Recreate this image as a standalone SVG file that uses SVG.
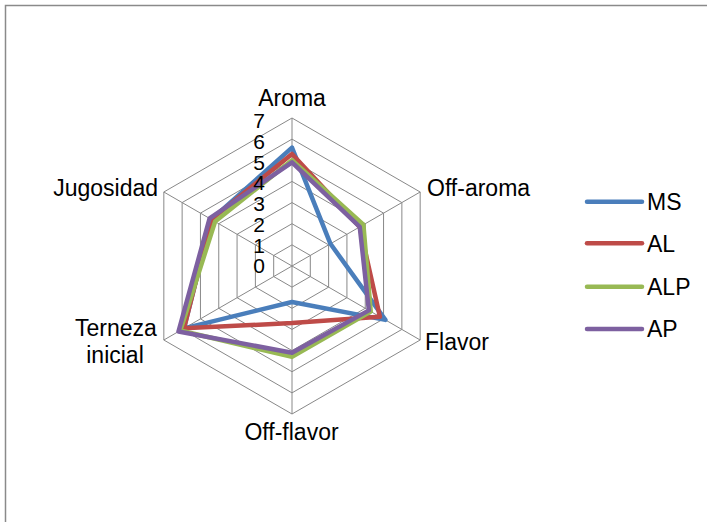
<svg xmlns="http://www.w3.org/2000/svg" width="707" height="522" viewBox="0 0 707 522">
<style>
  text { font-family: "Liberation Sans", Arial, sans-serif; font-size: 23px; fill: #000; }
  .num { font-size: 21px; }
  .grid { fill: none; stroke: #888888; stroke-width: 1; }
  .ser { fill: none; stroke-width: 4.5; stroke-linejoin: round; stroke-linecap: round; }
  .ms { stroke: #4a7ebb; }
  .al { stroke: #be4b48; }
  .alp { stroke: #98b954; }
  .ap { stroke: #7d60a0; }
  .leg { stroke-width: 4.5; stroke-linecap: round; }
</style>
<rect x="0" y="0" width="707" height="522" fill="#fff"/>
<rect x="5.5" y="5.5" width="730" height="540" fill="none" stroke="#8a8a8a" stroke-width="1.5"/>
<g id="grid">
  <polygon class="grid" points="292,244.86 310.31,255.43 310.31,276.57 292,287.14 273.69,276.57 273.69,255.43"/>
  <polygon class="grid" points="292,223.71 328.62,244.86 328.62,287.14 292,308.29 255.38,287.14 255.38,244.86"/>
  <polygon class="grid" points="292,202.57 346.93,234.29 346.93,297.71 292,329.43 237.07,297.71 237.07,234.29"/>
  <polygon class="grid" points="292,181.43 365.24,223.71 365.24,308.29 292,350.57 218.76,308.29 218.76,223.71"/>
  <polygon class="grid" points="292,160.29 383.55,213.14 383.55,318.86 292,371.71 200.45,318.86 200.45,213.14"/>
  <polygon class="grid" points="292,139.14 401.86,202.57 401.86,329.43 292,392.86 182.14,329.43 182.14,202.57"/>
  <polygon class="grid" points="292,118 420.17,192 420.17,340 292,414 163.83,340 163.83,192"/>
  <path class="grid" d="M292,266 L292,118 M292,266 L420.17,192 M292,266 L420.17,340 M292,266 L292,414 M292,266 L163.83,340 M292,266 L163.83,192"/>
</g>
<g id="connectors">
  <polygon id="series-MS" class="ser ms" points="292,147.6 330.45,243.8 385.38,319.91 292,301.94 183.97,328.37 211.44,219.49"/>
  <polygon id="series-AL" class="ser al" points="292,153.94 359.75,226.89 379.89,316.74 292,323.09 183.97,328.37 211.44,219.49"/>
  <polygon id="series-ALP" class="ser alp" points="292,160.29 363.41,224.77 370.73,311.46 292,356.91 180.31,330.49 215.1,221.6"/>
  <polygon id="series-AP" class="ser ap" points="292,162.4 359.75,226.89 368.9,310.4 292,352.69 178.47,331.54 209.61,218.43"/>
</g>
<g id="axis-values" text-anchor="end">
  <text class="num" x="265" y="128.3">7</text>
  <text class="num" x="265" y="149">6</text>
  <text class="num" x="265" y="169.7">5</text>
  <text class="num" x="265" y="190.4">4</text>
  <text class="num" x="265" y="211.2">3</text>
  <text class="num" x="265" y="231.9">2</text>
  <text class="num" x="265" y="252.6">1</text>
  <text class="num" x="265" y="273.3">0</text>
</g>
<g id="node-aroma"><text x="292" y="106" text-anchor="middle">Aroma</text></g>
<g id="node-off-aroma"><text x="427" y="196">Off-aroma</text></g>
<g id="node-flavor"><text x="425" y="350">Flavor</text></g>
<g id="node-off-flavor"><text x="291.5" y="440" text-anchor="middle">Off-flavor</text></g>
<g id="node-terneza"><text x="116" y="336" text-anchor="middle">Terneza</text><text x="115" y="363" text-anchor="middle">inicial</text></g>
<g id="node-jugosidad"><text x="158" y="196" text-anchor="end">Jugosidad</text></g>
<g id="legend">
  <line class="leg ms" x1="587" y1="201.7" x2="642" y2="201.7"/>
  <text x="647" y="210">MS</text>
  <line class="leg al" x1="587" y1="243.3" x2="642" y2="243.3"/>
  <text x="647" y="251.6">AL</text>
  <line class="leg alp" x1="587" y1="286.7" x2="642" y2="286.7"/>
  <text x="647" y="295">ALP</text>
  <line class="leg ap" x1="587" y1="329" x2="642" y2="329"/>
  <text x="647" y="337.3">AP</text>
</g>
</svg>
